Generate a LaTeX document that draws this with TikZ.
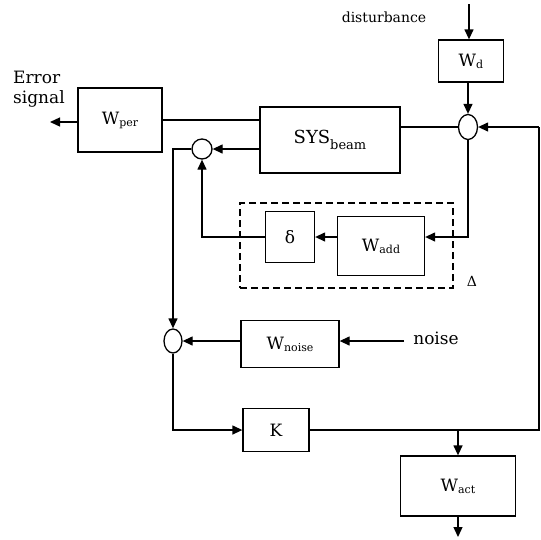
\documentclass[tikz,border=0pt]{standalone}
\usepackage{fontspec}
\setmainfont{DejaVu Serif}
\usetikzlibrary{arrows.meta,shapes.geometric}
\newcommand{\sbs}[1]{\raisebox{-2pt}{\fontsize{11}{11}\selectfont #1}}
\begin{document}
\begin{tikzpicture}[x=1pt,y=-1pt,
  blk/.style={draw,line width=1.3pt,inner sep=0pt,font=\fontsize{17}{19}\selectfont},
  sumpt/.style={draw,ellipse,line width=1.3pt,inner sep=0pt,minimum width=19pt,minimum height=25pt},
  wire/.style={line width=1.3pt},
  sig/.style={wire,-{Triangle[length=10pt,width=9pt]}},
  lbl/.style={font=\fontsize{17}{20}\selectfont,inner sep=0pt}]
  \useasboundingbox (0,0) rectangle (541,539);
  % blocks
  \node[blk,minimum width=65pt,minimum height=42pt] (wd) at (471,61) {W\sbs{d}};
  \node[blk,minimum width=84pt,minimum height=64pt] (wper) at (120,120) {W\sbs{per}};
  \node[blk,minimum width=140pt,minimum height=66pt,font=\fontsize{18}{20}\selectfont] (sys) at (330,140) {SYS\raisebox{-6pt}{\fontsize{13}{13}\selectfont beam}};
  \node[draw,line width=2pt,dash pattern=on 7pt off 4pt,minimum width=213pt,minimum height=85pt] (unc) at (346.5,245.5) {};
  \node[blk,minimum width=49pt,minimum height=51pt] (delta) at (290,237) {δ};
  \node[blk,minimum width=87pt,minimum height=59pt] (wadd) at (381,246) {W\sbs{add}};
  \node[blk,minimum width=98pt,minimum height=47pt] (wnoise) at (290,344) {W\sbs{noise}};
  \node[blk,minimum width=66pt,minimum height=43pt] (k) at (276,430) {K};
  \node[blk,minimum width=115pt,minimum height=60pt] (wact) at (458,486) {W\sbs{act}};
  % summing points
  \node[sumpt] (sum1) at (468,127) {};
  \node[sumpt,minimum width=20pt,minimum height=20pt] (sum2) at (202,149) {};
  \node[sumpt,minimum width=18pt,minimum height=24pt] (sum3) at (173,341) {};
  % labels
  \node[lbl,font=\fontsize{14}{16}\selectfont] (dist) at (384,17) {disturbance};
  \node[lbl,align=left,anchor=west] (err) at (13,89) {Error\\signal};
  \node[lbl,font=\fontsize{14}{16}\selectfont] (deltalbl) at (472,281) {Δ};
  \node[lbl] (noise) at (436,338) {noise};
  % free ends
  \coordinate (distin) at (469,4);
  \coordinate (errout) at (50,122);
  \coordinate (rin) at (539,127);
  \coordinate (noisein) at (404,341);
  \coordinate (actout) at (458,537);
  % signals
  \draw[sig] (distin) -- (distin |- wd.north);
  \draw[sig] (sum1.north |- wd.south) -- (sum1.north);
  \draw[sig] (wper.west |- errout) -- (errout);
  \draw[wire] (wper.east) -- (wper.east -| sys.west);
  \draw[wire] (sum1.west -| sys.east) -- (sum1.west);
  \draw[sig] (rin) -- (sum1.east);
  \draw[sig] (sum1.south) |- (wadd.east |- delta.east);
  \draw[sig] (wadd.west |- delta.east) -- (delta.east);
  \draw[sig] (delta.west) -| (sum2.south);
  \draw[sig] (sys.west |- sum2.east) -- (sum2.east);
  \draw[sig] (sum2.west) -| (sum3.north);
  \draw[sig] (wnoise.west |- sum3.east) -- (sum3.east);
  \draw[sig] (noisein) -- (noisein -| wnoise.east);
  \draw[sig] (sum3.south) |- (k.west);
  \draw[wire] (k.east) -- (k.east -| rin) -- (rin);
  \draw[sig] (wact.north |- k.east) -- (wact.north);
  \draw[sig] (wact.south) -- (actout);
\end{tikzpicture}
\end{document}
